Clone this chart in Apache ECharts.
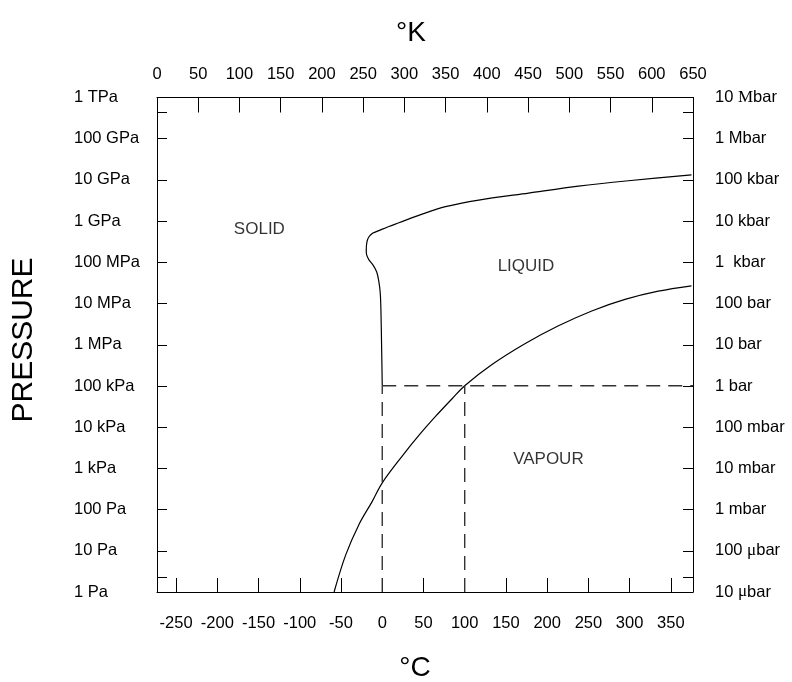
<!DOCTYPE html>
<html>
<head>
<meta charset="utf-8">
<script src="https://cdn.jsdelivr.net/npm/echarts@6/dist/echarts.min.js"></script>
<style>
  html, body { margin: 0; padding: 0; background: #fff; }
  #chart { width: 792px; height: 682px; }
</style>
</head>
<body>
<div id="chart"></div>
<script>
// water phase diagram: x in degC, y in log10(pressure / Pa)
const pressureLabels = ['1 Pa', '10 Pa', '100 Pa', '1 kPa', '10 kPa', '100 kPa', '1 MPa',
  '10 MPa', '100 MPa', '1 GPa', '10 GPa', '100 GPa', '1 TPa'];
// {s|..} parts are set in a serif face, as in the original
const barLabels = ['10 {s|\u03bc}bar', '100 {s|\u03bc}bar', '1 mbar', '10 mbar', '100 mbar', '1 bar', '10 bar',
  '100 bar', '1  kbar', '10 kbar', '100 kbar', '1 Mbar', '10 {s|M}bar'];
const celsiusTicks = [-250, -200, -150, -100, -50, 0, 50, 100, 150, 200, 250, 300, 350];
const decadeTicks = [0, 1, 2, 3, 4, 5, 6, 7, 8, 9, 10, 11, 12];
const extraTicks = [0.35, 11.65];

// melting curve (solid / liquid), traced from 1 atm upward
const meltC = [0, -0.7, -1.6, -2.4, -4.1, -6.8, -11.3, -16.1, -18.9, -19.4, -18.5, -16.1, -11.3, -4.1, 8.0, 20.2, 48.4, 76.7, 117, 177.4, 237.9, 298.4, 375];
const meltLogP = [5.006, 5.87, 6.84, 7.25, 7.53, 7.77, 7.94, 8.06, 8.18, 8.30, 8.50, 8.62, 8.71, 8.77, 8.87, 8.96, 9.17, 9.35, 9.51, 9.68, 9.85, 9.98, 10.12];

// vapour pressure curve (sublimation + boiling)
const vapC = [-58.4, -44.3, -28.2, -12.1, 0, 24.2, 44.4, 64.6, 84.7, 100, 133.1, 173.5, 213.7, 254.1, 294.4, 334.7, 375];
const vapLogP = [0, 0.90, 1.64, 2.20, 2.65, 3.30, 3.80, 4.26, 4.69, 5.006, 5.52, 6.03, 6.46, 6.82, 7.10, 7.30, 7.43];

const atmLogP = 5.006;
const freezeC = 0;
const boilC = 100;
const rightEdgeC = 376.85;

const regionNames = ['SOLID', 'LIQUID', 'VAPOUR'];
const regionC = [-149, 174.3, 201.5];
const regionLogP = [8.81, 7.91, 3.23];

const font = 'Liberation Sans, Arial, sans-serif';
const serif = 'Liberation Serif, Times New Roman, serif';

function zip(xs, ys) {
  return xs.map((x, i) => [x, ys[i]]);
}

const chart = echarts.init(document.getElementById('chart'), null, { renderer: 'canvas' });

const dashStyle = { color: '#333', width: 1.4, type: [14, 8] };

const option = {
  animation: false,
  backgroundColor: '#fff',
  grid: { left: 157, right: 99, top: 97.5, bottom: 90, containLabel: false },
  xAxis: [
    {
      type: 'value',
      position: 'bottom',
      min: -273.15,
      max: 376.85,
      splitLine: { show: false },
      axisLine: { onZero: false, lineStyle: { color: '#000', width: 1 } },
      axisTick: { inside: true, length: 14, lineStyle: { color: '#000' }, customValues: celsiusTicks },
      axisLabel: { customValues: celsiusTicks, margin: 23, color: '#000', fontSize: 16.5, fontFamily: font }
    },
    {
      type: 'value',
      position: 'top',
      min: 0,
      max: 650,
      interval: 50,
      splitLine: { show: false },
      axisLine: { onZero: false, lineStyle: { color: '#000', width: 1 } },
      axisTick: { inside: true, length: 15, lineStyle: { color: '#000' } },
      axisLabel: { margin: 15, color: '#000', fontSize: 16.5, fontFamily: font }
    }
  ],
  yAxis: [
    {
      type: 'value',
      position: 'left',
      min: 0,
      max: 12,
      splitLine: { show: false },
      axisLine: { show: true, onZero: false, lineStyle: { color: '#000', width: 1 } },
      axisTick: { show: true, inside: true, length: 10, lineStyle: { color: '#000' },
        customValues: decadeTicks.concat(extraTicks) },
      axisLabel: {
        customValues: decadeTicks,
        align: 'left',
        margin: 83,
        color: '#000',
        fontSize: 16.5,
        fontFamily: font,
        formatter: v => pressureLabels[Math.round(v)]
      }
    },
    {
      type: 'value',
      position: 'right',
      min: 0,
      max: 12,
      splitLine: { show: false },
      axisLine: { show: true, onZero: false, lineStyle: { color: '#000', width: 1 } },
      axisTick: { show: true, inside: true, length: 10, lineStyle: { color: '#000' },
        customValues: decadeTicks.concat(extraTicks) },
      axisLabel: {
        customValues: decadeTicks,
        align: 'left',
        margin: 22,
        color: '#000',
        fontSize: 16.5,
        fontFamily: font,
        formatter: v => barLabels[Math.round(v)],
        rich: {
          s: { fontFamily: serif, fontSize: 17, color: '#000' }
        }
      }
    }
  ],
  series: [
    {
      name: 'melting',
      type: 'line',
      data: zip(meltC, meltLogP),
      smooth: 0.3,
      showSymbol: false,
      lineStyle: { color: '#000', width: 1.2 }
    },
    {
      name: 'vapour',
      type: 'line',
      data: zip(vapC, vapLogP),
      smooth: 0.35,
      showSymbol: false,
      lineStyle: { color: '#000', width: 1.2 }
    },
    {
      name: 'atm',
      type: 'line',
      data: [[freezeC, atmLogP], [rightEdgeC, atmLogP]],
      showSymbol: false,
      lineStyle: dashStyle
    },
    {
      name: 'freeze',
      type: 'line',
      data: [[freezeC, 0], [freezeC, atmLogP]],
      showSymbol: false,
      lineStyle: dashStyle
    },
    {
      name: 'boil',
      type: 'line',
      data: [[boilC, 0], [boilC, atmLogP]],
      showSymbol: false,
      lineStyle: dashStyle
    },
    {
      name: 'regions',
      type: 'scatter',
      symbolSize: 0,
      data: regionNames.map((n, i) => ({ name: n, value: [regionC[i], regionLogP[i]] })),
      label: {
        show: true,
        position: 'inside',
        formatter: p => p.name,
        color: '#000',
        textBorderWidth: 0,
        fontSize: 17,
        fontFamily: font
      }
    }
  ],
  graphic: [
    { type: 'text', x: 411, y: 33,
      style: { text: '\u00b0K', fontSize: 28, fontFamily: font, fill: '#000', textAlign: 'center', textVerticalAlign: 'middle' } },
    { type: 'text', x: 415, y: 668,
      style: { text: '\u00b0C', fontSize: 28, fontFamily: font, fill: '#000', textAlign: 'center', textVerticalAlign: 'middle' } },
    { type: 'text', x: 24, y: 340, rotation: Math.PI / 2,
      style: { text: 'PRESSURE', fontSize: 30, fontFamily: font, fill: '#000', textAlign: 'center', textVerticalAlign: 'middle' } }
  ]
};

chart.setOption(option);
</script>
</body>
</html>
